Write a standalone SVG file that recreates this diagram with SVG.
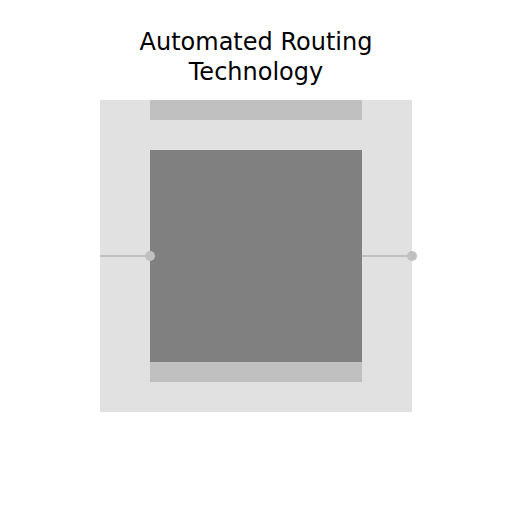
<svg xmlns="http://www.w3.org/2000/svg" width="512" height="512" viewBox="0 0 512 512">
<style>
.t{font-family:"DejaVu Sans",sans-serif;font-size:24px;fill:#000;text-anchor:middle}
.bar{fill:#c0c0c0}
.wire{stroke:#c0c0c0;stroke-width:2;fill:none}
.pin{fill:#c0c0c0}
</style>
<rect width="512" height="512" fill="#fff"/>
<text class="t" x="256" y="50">Automated Routing</text>
<text class="t" x="256" y="80">Technology</text>
<g id="board"><rect x="100" y="100" width="312" height="312" fill="#e1e1e1"/></g>
<g id="top-bar"><rect class="bar" x="150" y="100" width="212" height="20"/></g>
<g id="core"><rect x="150" y="150" width="212" height="212" fill="#808080"/></g>
<g id="bottom-bar"><rect class="bar" x="150" y="362" width="212" height="20"/></g>
<g id="connectors">
<line class="wire" x1="100" y1="256" x2="150" y2="256"/>
<line class="wire" x1="362" y1="256" x2="412" y2="256"/>
</g>
<g id="pin-left"><circle class="pin" cx="150" cy="256" r="5"/></g>
<g id="pin-right"><circle class="pin" cx="412" cy="256" r="5"/></g>
</svg>
